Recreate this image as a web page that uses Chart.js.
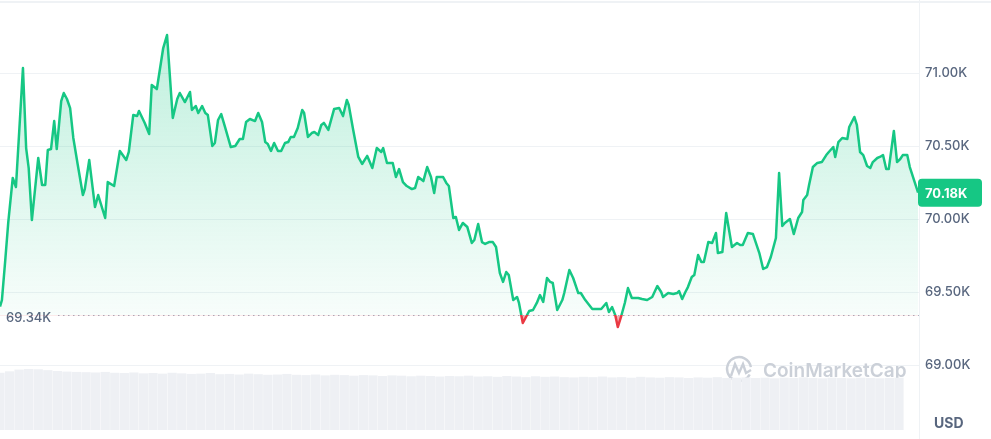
<!DOCTYPE html>
<html>
<head>
<meta charset="utf-8">
<script src="https://cdn.jsdelivr.net/npm/chart.js@4.4.1/dist/chart.umd.min.js"></script>
<style>
  html, body { margin: 0; padding: 0; background: #fff; }
  #wrap { width: 991px; height: 439px; position: relative; }
</style>
</head>
<body>
<div id="wrap"><canvas id="price-chart"></canvas></div>
<script>
// minutes since start of the 24h window
const times = [
  0, 3, 8, 13, 20, 25, 36, 41, 45, 50,
  60, 66, 71, 75, 80, 85, 89, 96, 100, 105,
  110, 115, 122, 130, 133, 140, 149, 154, 165, 169,
  179, 188, 198, 202, 209, 215, 218, 224, 227, 234,
  238, 246, 256, 262, 271, 278, 282, 290, 298, 301,
  307, 311, 317, 322, 326, 333, 337, 342, 347, 353,
  362, 369, 376, 381, 386, 392, 400, 405, 411, 416,
  420, 425, 430, 436, 441, 447, 452, 456, 461, 467,
  474, 477, 483, 489, 493, 499, 504, 508, 515, 524,
  532, 538, 544, 547, 554, 562, 568, 576, 584, 591,
  598, 601, 607, 616, 621, 626, 632, 638, 646, 651,
  656, 664, 670, 676, 681, 685, 695, 700, 704, 711,
  715, 720, 726, 733, 740, 744, 750, 756, 761, 767,
  773, 778, 784, 789, 794, 798, 805, 811, 814, 820,
  825, 830, 836, 842, 847, 852, 858, 863, 867, 874,
  882, 885, 893, 899, 907, 911, 918, 929, 933, 938,
  943, 951, 955, 960, 965, 969, 974, 980, 985, 991,
  1001, 1007, 1015, 1023, 1031, 1037, 1040, 1048, 1056, 1062,
  1065, 1070, 1075, 1079, 1085, 1089, 1095, 1100, 1104, 1111,
  1117, 1123, 1126, 1133, 1139, 1148, 1156, 1161, 1165, 1173,
  1181, 1191, 1197, 1203, 1209, 1217, 1222, 1227, 1231, 1239,
  1245, 1252, 1258, 1260, 1266, 1269, 1275, 1282, 1289, 1296,
  1300, 1307, 1310, 1315, 1321, 1329, 1332, 1340, 1344, 1349,
  1354, 1360, 1365, 1369, 1376, 1380, 1385, 1390, 1394, 1402,
  1407, 1412, 1416, 1423, 1427, 1440
];

// BTC price in USD
const prices = [
  69400, 69445, 69705, 69979, 70281, 70219, 71034, 70486, 70349, 69993,
  70418, 70233, 70233, 70473, 70479, 70671, 70479, 70808, 70863, 70822,
  70760, 70555, 70370, 70164, 70205, 70404, 70082, 70164, 70007, 70253,
  70226, 70466, 70404, 70459, 70712, 70705, 70740, 70685, 70658, 70582,
  70918, 70890, 71171, 71260, 70692, 70822, 70863, 70801, 70870, 70747,
  70774, 70726, 70774, 70726, 70712, 70500, 70521, 70678, 70719, 70630,
  70493, 70500, 70548, 70548, 70664, 70685, 70671, 70726, 70664, 70527,
  70514, 70466, 70521, 70466, 70466, 70521, 70527, 70562, 70562, 70623,
  70747, 70726, 70562, 70589, 70596, 70575, 70644, 70658, 70610, 70753,
  70760, 70705, 70815, 70781, 70610, 70425, 70377, 70432, 70349, 70486,
  70459, 70486, 70384, 70384, 70288, 70342, 70253, 70226, 70205, 70212,
  70288, 70260, 70356, 70288, 70178, 70288, 70288, 70247, 70226, 70007,
  70014, 69925, 69973, 69945, 69836, 69856, 69966, 69842, 69829, 69842,
  69842, 69808, 69630, 69569, 69637, 69616, 69445, 69466, 69425, 69288,
  69329, 69370, 69377, 69425, 69479, 69432, 69596, 69569, 69562, 69377,
  69445, 69493, 69651, 69596, 69493, 69493, 69445, 69384, 69384, 69384,
  69384, 69425, 69363, 69397, 69342, 69260, 69329, 69425, 69527, 69459,
  69459, 69452, 69445, 69466, 69541, 69500, 69466, 69493, 69486, 69493,
  69507, 69452, 69500, 69534, 69603, 69616, 69753, 69705, 69705, 69842,
  69836, 69904, 69767, 69774, 70041, 69808, 69836, 69822, 69822, 69904,
  69897, 69767, 69658, 69671, 69740, 69870, 70315, 69952, 69973, 70000,
  69897, 70007, 70048, 70130, 70164, 70233, 70356, 70384, 70390, 70438,
  70459, 70493, 70425, 70527, 70555, 70548, 70630, 70699, 70644, 70459,
  70438, 70363, 70349, 70390, 70418, 70425, 70438, 70342, 70342, 70603,
  70390, 70411, 70438, 70438, 70356, 70180
];

// volume, one bar every 15 minutes
const volumes = [
  985, 1010, 1040, 1050, 1045, 1030, 1015, 1005, 1000, 995,
  990, 1000, 985, 980, 990, 975, 980, 970, 985, 975,
  965, 970, 980, 960, 965, 955, 970, 960, 950, 955,
  965, 950, 945, 955, 940, 950, 945, 935, 945, 940,
  930, 940, 935, 925, 935, 930, 920, 930, 925, 935,
  920, 925, 915, 930, 920, 910, 925, 915, 920, 910,
  905, 915, 910, 920, 905, 910, 900, 915, 905, 900,
  910, 905, 895, 905, 900, 910, 895, 900, 905, 895,
  900, 890, 900, 895, 905, 895, 890, 900, 895, 890,
  900, 895, 890, 895, 900
];
const volumeStep = 15;

const yTicks = [69000, 69500, 70000, 70500, 71000];
const basePrice = 69340;
const lastPrice = 70180;

const GREEN = '#16c784';
const RED = '#ea3943';
const GREY = '#58667e';
const FONT = 'Inter, "Noto Sans", sans-serif';

function kLabel(v) {
  return (v / 1000).toFixed(2) + 'K';
}

// stroke: green above the open price, red below
function lineColor(context) {
  const { chart } = context;
  const { ctx, chartArea, scales } = chart;
  if (!chartArea) return GREEN;
  const baseY = scales.y.getPixelForValue(basePrice);
  const f = Math.min(Math.max((baseY - chartArea.top) / (chartArea.bottom - chartArea.top), 0), 1);
  const g = ctx.createLinearGradient(0, chartArea.top, 0, chartArea.bottom);
  g.addColorStop(0, GREEN);
  g.addColorStop(f, GREEN);
  g.addColorStop(f, RED);
  g.addColorStop(1, RED);
  return g;
}

function areaColor(context) {
  const { chart } = context;
  const { ctx, chartArea, scales } = chart;
  if (!chartArea) return 'rgba(22,199,132,0.12)';
  const baseY = scales.y.getPixelForValue(basePrice);
  const g = ctx.createLinearGradient(0, chartArea.top + 30, 0, baseY);
  g.addColorStop(0, 'rgba(22,199,132,0.28)');
  g.addColorStop(1, 'rgba(22,199,132,0.03)');
  return g;
}

// dotted open-price line and its label
const baselinePlugin = {
  id: 'baseline',
  beforeDatasetsDraw(chart) {
    const { ctx, chartArea, scales } = chart;
    const y = Math.round(scales.y.getPixelForValue(basePrice)) + 0.5;
    ctx.save();
    ctx.strokeStyle = '#a9b2c2';
    ctx.lineWidth = 1;
    ctx.setLineDash([1.5, 3.5]);
    ctx.beginPath();
    ctx.moveTo(58, y);
    ctx.lineTo(chartArea.right, y);
    ctx.stroke();
    ctx.setLineDash([]);
    ctx.fillStyle = GREY;
    ctx.font = '500 13px ' + FONT;
    ctx.textBaseline = 'middle';
    ctx.fillText(kLabel(basePrice), 6, y + 3);
    ctx.restore();
  }
};

// watermark, borders, current price badge, currency
const decorPlugin = {
  id: 'decor',
  beforeDatasetsDraw(chart) {
    const { ctx } = chart;
    ctx.save();
    ctx.strokeStyle = '#cbd0d8';
    ctx.lineWidth = 2.4;
    ctx.beginPath();
    ctx.arc(739, 369, 12, 0.15 * Math.PI, 1.95 * Math.PI);
    ctx.stroke();
    ctx.beginPath();
    ctx.moveTo(731, 376);
    ctx.lineTo(735, 364);
    ctx.lineTo(739, 373);
    ctx.lineTo(743, 364);
    ctx.lineTo(746, 373);
    ctx.lineTo(751, 370);
    ctx.stroke();
    ctx.fillStyle = '#cbd0d8';
    ctx.font = '600 19px ' + FONT;
    ctx.textBaseline = 'middle';
    ctx.fillText('CoinMarketCap', 763, 371);
    ctx.restore();
  },
  afterDraw(chart) {
    const { ctx, chartArea, scales } = chart;
    ctx.save();
    ctx.fillStyle = '#eff2f5';
    ctx.fillRect(0, 1, chart.width, 2);
    ctx.fillRect(chartArea.right - 1, 0, 1, chart.height);

    const y = scales.y.getPixelForValue(lastPrice);
    ctx.fillStyle = GREEN;
    ctx.beginPath();
    ctx.roundRect(chartArea.right - 2, y - 14, 64, 28, 4);
    ctx.fill();
    ctx.fillStyle = '#fff';
    ctx.font = '700 13px ' + FONT;
    ctx.textBaseline = 'middle';
    ctx.fillText(kLabel(lastPrice), chartArea.right + 5, y + 1);

    ctx.fillStyle = GREY;
    ctx.font = '700 14px ' + FONT;
    ctx.fillText('USD', 934, 424);
    ctx.restore();
  }
};

const ctx = document.getElementById('price-chart').getContext('2d');

new Chart(ctx, {
  type: 'line',
  data: {
    datasets: [{
      type: 'line',
      label: 'Price',
      data: times.map((t, i) => ({ x: t, y: prices[i] })),
      borderColor: lineColor,
      backgroundColor: areaColor,
      borderWidth: 2.5,
      borderJoinStyle: 'round',
      pointRadius: 0,
      tension: 0,
      fill: { target: { value: basePrice }, below: 'rgba(234,57,67,0.4)' },
      yAxisID: 'y',
      order: 1
    }, {
      type: 'bar',
      label: 'Volume',
      data: volumes.map((v, i) => ({ x: i * volumeStep, y: v })),
      backgroundColor: '#eef0f4',
      borderWidth: 0,
      barPercentage: 0.97,
      categoryPercentage: 1,
      yAxisID: 'y2',
      order: 2
    }]
  },
  options: {
    responsive: true,
    maintainAspectRatio: false,
    animation: false,
    layout: { padding: { top: 0, left: 0, right: 0, bottom: 9 } },
    plugins: {
      legend: { display: false },
      tooltip: { enabled: false }
    },
    scales: {
      x: {
        type: 'linear',
        min: 0,
        max: 1443,
        offset: false,
        display: false
      },
      y: {
        position: 'right',
        min: 68555,
        max: 71500,
        afterBuildTicks: scale => {
          scale.ticks = yTicks.map(v => ({ value: v }));
        },
        afterFit: scale => {
          scale.width = 71;
          scale.paddingTop = 0;
          scale.paddingBottom = 0;
        },
        grid: { color: '#eff2f5', drawTicks: false },
        border: { display: false },
        ticks: {
          padding: 5,
          color: GREY,
          font: { family: FONT, size: 13, weight: 500 },
          callback: v => kLabel(v)
        }
      },
      y2: {
        min: 0,
        max: 7400,
        display: false
      }
    }
  },
  plugins: [baselinePlugin, decorPlugin]
});
</script>
</body>
</html>
